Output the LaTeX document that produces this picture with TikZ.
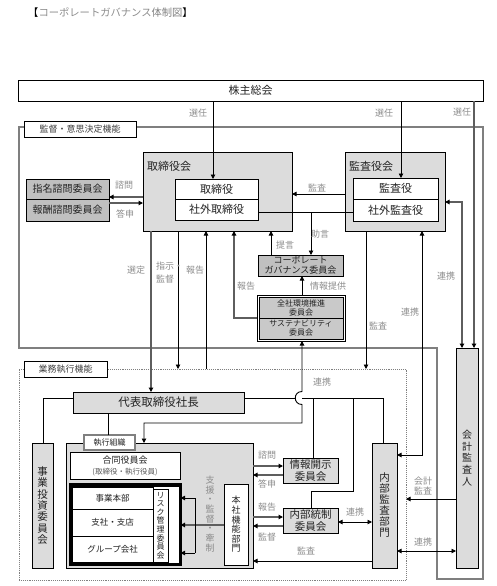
\documentclass[tikz,border=0pt]{standalone}
\usepackage{fontspec}
\setmainfont{Noto Sans CJK JP}
\usetikzlibrary{arrows.meta,fit}
\definecolor{boxgray}{HTML}{DCDCDC}
\definecolor{midgray}{HTML}{C0C0C0}
\definecolor{lblgray}{HTML}{8C8C8C}
\definecolor{framegray}{HTML}{7F7F7F}
\definecolor{linegray}{HTML}{5E5E5E}
\definecolor{txt}{HTML}{222222}
\newcommand{\myfs}[2]{\fontsize{#1}{#2}\selectfont}
\begin{document}
\begin{tikzpicture}[x=1pt,y=-1pt, font=\myfs{10.5}{12}, text=txt,
 box/.style={draw=black, line width=0.8pt, inner sep=0pt, outer sep=0pt, align=center},
 bk/.style={draw=black, line width=0.9pt},
 gr/.style={draw=linegray, line width=1.5pt},
 tip/.style={-{Triangle[length=4.5pt,width=4.5pt,color=black]}},
 tips/.style={{Triangle[length=4.5pt,width=4.5pt,color=black]}-{Triangle[length=4.5pt,width=4.5pt,color=black]}},
 lbl/.style={text=lblgray, font=\myfs{9}{10.5}, inner sep=0pt, align=center},
 vt/.style 2 args={align=center, font=\myfs{#1}{#2}},
]
\useasboundingbox (0,0) rectangle (496,586);

% title
\node[anchor=west, inner sep=0pt, font=\myfs{10.3}{12}] (title) at (28,13) {\textcolor{black}{【}\textcolor{lblgray}{コーポレートガバナンス}\textcolor{gray}{体制図}\textcolor{black}{】}};

% frames
\draw[framegray, line width=2.2pt] (19,127) -- (483,127) -- (483,579) -- (437,579) -- (437,348) -- (19,348) -- cycle;
\node[draw=framegray, densely dotted, line width=0.9pt, minimum width=387pt, minimum height=211pt, inner sep=0pt, outer sep=0pt] (gyomu) at (212.5,474.5) {};
\node[box, fill=white, minimum width=112pt, minimum height=16pt, font=\myfs{9}{10}, text=black!75] (lblA) at (80,129) {監督・意思決定機能};
\node[box, fill=white, minimum width=83pt, minimum height=16pt, font=\myfs{9}{10}, text=black!75] (lblB) at (65.5,369) {業務執行機能};

% top nodes
\node[box, minimum width=465pt, minimum height=21pt, font=\myfs{11}{12}] (kabunushi) at (250.5,90.5) {株主総会};
\node[box, fill=boxgray, minimum width=149pt, minimum height=79pt] (torikai) at (217.5,191.5) {};
\node[anchor=west, inner sep=0pt, font=\myfs{11}{12}] (torikailbl) at (147,166) {取締役会};
\node[box, fill=white, minimum width=83pt, minimum height=20pt, font=\myfs{11}{12}] (tori) at (216.5,189) {取締役};
\node[box, fill=white, minimum width=83pt, minimum height=21pt, font=\myfs{11}{12}] (shagaitori) at (216.5,209.5) {社外取締役};
\node[box, fill=boxgray, minimum width=100pt, minimum height=79pt] (kansakai) at (395,191.5) {};
\node[anchor=west, inner sep=0pt, font=\myfs{11}{12}] (kansakailbl) at (349,166) {監査役会};
\node[box, fill=white, minimum width=85pt, minimum height=21pt, font=\myfs{11}{12}] (kansa) at (395.5,188.5) {監査役};
\node[box, fill=white, minimum width=85pt, minimum height=22pt, font=\myfs{11}{12}] (shagaikansa) at (395.5,210) {社外監査役};
\node[box, fill=midgray, minimum width=83pt, minimum height=20pt, font=\myfs{10}{12}] (shimei) at (67.5,189) {指名諮問委員会};
\node[box, fill=midgray, minimum width=83pt, minimum height=22pt, font=\myfs{10}{12}] (hoshu) at (67.5,210) {報酬諮問委員会};
\node[box, fill=midgray, minimum width=85pt, minimum height=21pt, font=\myfs{9}{10}] (cg) at (300.5,265.5) {コーポレート\\ガバナンス委員会};
\node[box, fill=midgray!85!white, minimum width=84pt, minimum height=21pt, font=\myfs{8}{9}] (kankyo) at (301,307.5) {全社環境推進\\委員会};
\node[box, fill=midgray!85!white, minimum width=84pt, minimum height=21pt, font=\myfs{8}{9}] (sus) at (301,328.5) {サステナビリティ\\委員会};
\node[draw=black, line width=0.8pt, fit=(kankyo)(sus), inner sep=2pt, outer sep=0pt] (dbl) {};
\node[box, fill=boxgray, minimum width=22pt, minimum height=220pt, vt={10}{11.7}] (kaikei) at (467,458) {会\\計\\監\\査\\人};

% execution nodes
\node[box, fill=boxgray, minimum width=171pt, minimum height=21pt, font=\myfs{11.5}{12}] (daihyo) at (158.5,402.5) {代表取締役社長};
\node[box, fill=boxgray, minimum width=21pt, minimum height=125pt, vt={10.5}{11.3}] (jigyotoshi) at (42.5,505.5) {事\\業\\投\\資\\委\\員\\会};
\node[box, fill=boxgray, minimum width=187pt, minimum height=125pt] (shikko) at (159.5,505.5) {};
\node[box, draw=gray, line width=1.6pt, fill=white, minimum width=51pt, minimum height=15pt, font=\myfs{8}{9}] (shikkolbl) at (109.5,442.5) {執行組織};
\node[box, fill=white, minimum width=110pt, minimum height=27pt, font=\myfs{9}{11}] (godo) at (125,465.5) {合同役員会\\{\myfs{7.5}{9}\color{black!65}(取締役・執行役員)}};
\node[draw=black, line width=3.2pt, fill=white, inner sep=0pt, outer sep=0pt, minimum width=110pt, minimum height=79.5pt] (jigyo) at (125.5,524.75) {};
\node[box, minimum width=81pt, minimum height=22pt, font=\myfs{8.5}{10}] (row1) at (112.5,498) {事業本部};
\node[box, minimum width=81pt, minimum height=27pt, font=\myfs{8.5}{10}] (row2) at (112.5,522.5) {支社・支店};
\node[box, minimum width=81pt, minimum height=26pt, font=\myfs{8.5}{10}] (row3) at (112.5,549) {グループ会社};
\node[box, fill=white, minimum width=15pt, minimum height=73pt, vt={8}{8.6}] (risk) at (160.5,525.5) {リ\\ス\\ク\\管\\理\\委\\員\\会};
\node[box, fill=white, minimum width=24pt, minimum height=81pt, vt={9}{9.6}] (honsha) at (236,524.5) {本\\社\\機\\能\\部\\門};
\node[box, fill=boxgray, minimum width=55pt, minimum height=25pt, font=\myfs{10.5}{12}] (joho) at (310.5,470.5) {情報開示\\委員会};
\node[box, fill=boxgray, minimum width=55pt, minimum height=25pt, font=\myfs{10.5}{12}] (naibu) at (310.5,520.5) {内部統制\\委員会};
\node[box, fill=boxgray, minimum width=25pt, minimum height=125pt, vt={10.5}{11}] (naikan) at (384.5,505.5) {内\\部\\監\\査\\部\\門};

% connectors: shareholders
\draw[bk, tip] (kabunushi.south -| 213,0) -- (tori.north -| 213,0);
\draw[bk, tip] (kabunushi.south -| 401,0) -- (kansa.north -| 401,0);
\draw[gr, tip] (kabunushi.south -| 474,0) -- (kaikei.north -| 474,0);
% board level
\draw[bk, tip] (kansakai.west |- 0,194) -- (torikai.east |- 0,194);
\coordinate (jadv) at (311,212);
\draw[bk] (shagaitori.east |- 0,212) -- (shagaikansa.west |- 0,212);
\draw[bk, tip] (jadv) -- (cg.north -| 311,0);
\draw[bk, tip] (cg.north -| 271,0) -- (torikai.south -| 271,0);
\draw[bk, tip] (dbl.north -| 302,0) -- (cg.south -| 302,0);
\draw[gr, tip] (dbl.west |- 0,318) -| (torikai.south -| 234,0);
\draw[gr, tip] (torikai.west |- 0,197) -- (shimei.east |- 0,197);
\draw[gr, tip] (hoshu.east |- 0,203) -- (torikai.west |- 0,203);
\draw[gr, tip] (torikai.south -| 151,0) -- (daihyo.north -| 151,0);
\draw[bk, tip] (torikai.south -| 178,0) -- (gyomu.north -| 178,0);
\draw[bk, tip] (gyomu.north -| 206,0) -- (torikai.south -| 206,0);
\draw[bk, tip] (kansakai.south -| 366,0) -- (gyomu.north -| 366,0);
\draw[bk, tips] (naikan.east |- 0,455) -| (kansakai.south -| 422,0);
\draw[gr, tips] (kansakai.east |- 0,202) -| (kaikei.north -| 462,0);
\draw[bk, tip] (kaikei.west |- 0,499) -- (gyomu.east |- 0,499);
\draw[bk, tips] (naikan.east |- 0,551) -- (kaikei.west |- 0,551);
\draw[bk, tips] (naibu.east |- 0,522) -- (naikan.west |- 0,522);
\draw[bk, tip] (naikan.west |- 0,561) -- (shikko.east |- 0,561);
% president
\draw[bk] (daihyo.west |- 0,398) -| (jigyotoshi.north -| 43,0);
\draw[bk] (daihyo.south -| 108,0) -- (shikkolbl.north -| 108,0);
\coordinate (hopL) at (295.3,398);
\coordinate (hopR) at (302,398);
\draw[bk] (daihyo.east |- 0,398) -- (hopL);
\draw[bk] (hopR) -- (383,398) -- (naikan.north -| 383,0);
\draw[bk, tips] (dbl.south -| 302,0) -- (302,391.5) .. controls (293,391.5) and (293,404.5) .. (302,404.5) -- (302,423) -- (144,423) -- (shikko.north -| 144,0);
\draw[bk] (313,398) -- (joho.north -| 313,0);
\draw[bk] (353,398) -- (353,491) -- (311,491) -- (naibu.north -| 311,0);
% exec internal
\draw[gr, tip] (honsha.west |- 0,525) -- (jigyo.east |- 0,525);
\draw[bk] (195,498) -- (195,553);
\draw[bk, tip] (195,498) -- (jigyo.east |- 0,498);
\draw[bk, tip] (195,553) -- (jigyo.east |- 0,553);
\draw[gr, tip] (shikko.east |- 0,466) -- (joho.west |- 0,466);
\draw[gr, tip] (joho.west |- 0,475) -- (shikko.east |- 0,475);
\draw[gr, tip] (shikko.east |- 0,517) -- (naibu.west |- 0,517);
\draw[gr, tip] (naibu.west |- 0,526) -- (shikko.east |- 0,526);

% labels
\node[lbl] (s1) at (198,113) {選任};
\node[lbl] (s2) at (384,113) {選任};
\node[lbl] (s3) at (462,112) {選任};
\node[lbl] (k1) at (317,188) {監査};
\node[lbl] (jo) at (320,234) {助言};
\node[lbl] (te) at (285,245) {提言};
\node[lbl] (jh) at (328,286) {情報提供};
\node[lbl] (hk1) at (246,286) {報告};
\node[lbl] (sm) at (124,185) {諮問};
\node[lbl] (ts) at (125,214) {答申};
\node[lbl] (sd) at (136,270) {選定};
\node[lbl, anchor=west] (sj) at (156,266) {指示・};
\node[lbl] (sk) at (165,279) {監督};
\node[lbl] (hk2) at (195,270) {報告};
\node[lbl] (k2) at (378,326) {監査};
\node[lbl] (r1) at (410,312) {連携};
\node[lbl] (r2) at (446,276) {連携};
\node[lbl] (r3) at (322,382) {連携};
\node[lbl] (sm2) at (267,455) {諮問};
\node[lbl] (ts2) at (267,484) {答申};
\node[lbl] (hk3) at (267,507) {報告};
\node[lbl] (kt) at (267,537) {監督};
\node[lbl] (r4) at (355,512) {連携};
\node[lbl] (k3) at (306,551) {監査};
\node[lbl] (kk) at (423,486) {会計\\監査};
\node[lbl] (r5) at (423,542) {連携};
\node[lbl, font=\myfs{9}{9.7}] (shien) at (210,514) {支\\援\\・\\監\\督\\・\\牽\\制};
\end{tikzpicture}
\end{document}
